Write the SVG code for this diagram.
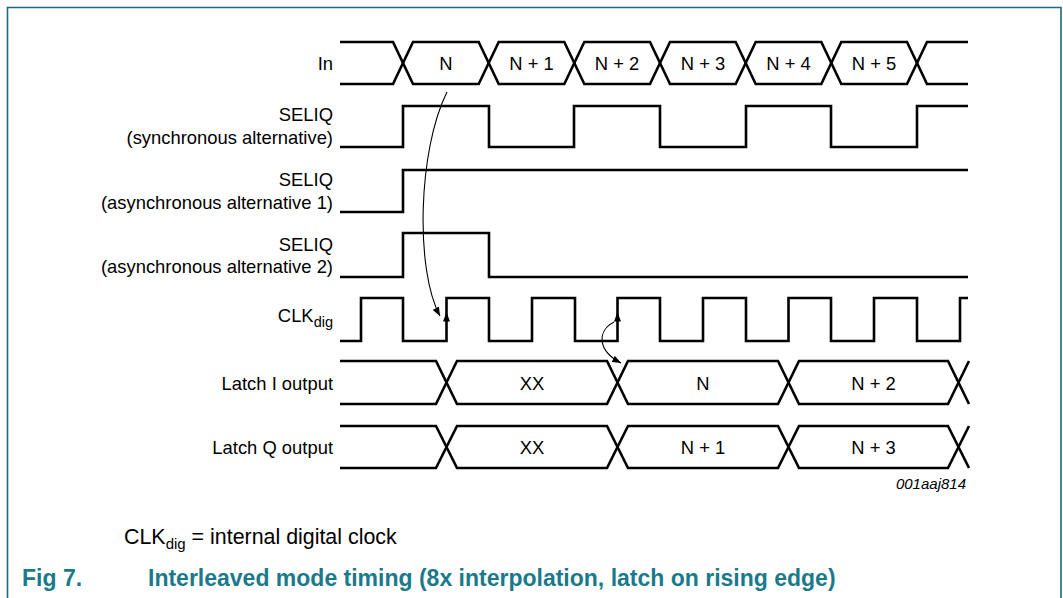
<svg xmlns="http://www.w3.org/2000/svg" width="1063" height="598" viewBox="0 0 1063 598">
<style>
.lbl{font-family:"Liberation Sans",Arial,sans-serif;font-size:18.4px;fill:#000;text-anchor:end}
.val{font-family:"Liberation Sans",Arial,sans-serif;font-size:18.4px;fill:#000;text-anchor:middle}
.wave{fill:none;stroke:#000;stroke-width:2.6;stroke-linejoin:miter;stroke-linecap:butt}
.conn{fill:none;stroke:#000;stroke-width:1.1}
.edge{fill:#000;stroke:none}
.frame{fill:none;stroke:#186d7e;stroke-width:1.6}
.cap{font-family:"Liberation Sans",Arial,sans-serif;font-size:23px;font-weight:bold;fill:#1a7a8c}
</style>
<defs>
<marker id="ah" viewBox="0 0 10 8" refX="10" refY="4" markerWidth="9" markerHeight="7" markerUnits="userSpaceOnUse" orient="auto">
<path d="M0,0 L10,4 L0,8 z" fill="#000"/>
</marker>
</defs>
<rect width="1063" height="598" fill="#fff"/>
<path class="frame" d="M7.5,598 V7.5 H1061 V598"/>

<g id="sig-in">
<text class="lbl" x="333" y="69.5">In</text>
<path class="wave" d="M340,42 H393 L413,84 H478.7 L498.7,42 H564.3 L584.3,84 H650 L670,42 H735.7 L755.7,84 H821.3 L841.3,42 H907 L927,84 H968"/>
<path class="wave" d="M340,84 H393 L413,42 H478.7 L498.7,84 H564.3 L584.3,42 H650 L670,84 H735.7 L755.7,42 H821.3 L841.3,84 H907 L927,42 H968"/>
<text class="val" x="446" y="69.5">N</text>
<text class="val" x="531.5" y="69.5">N + 1</text>
<text class="val" x="617" y="69.5">N + 2</text>
<text class="val" x="703" y="69.5">N + 3</text>
<text class="val" x="788.5" y="69.5">N + 4</text>
<text class="val" x="874" y="69.5">N + 5</text>
</g>

<g id="sig-seliq-sync">
<text class="lbl" x="333" y="121">SELIQ</text>
<text class="lbl" x="333" y="144">(synchronous alternative)</text>
<path class="wave" d="M340,147 H403 V106 H489 V147 H574 V106 H660 V147 H746 V106 H831 V147 H917 V106 H968"/>
</g>

<g id="sig-seliq-async1">
<text class="lbl" x="333" y="186">SELIQ</text>
<text class="lbl" x="333" y="208.5">(asynchronous alternative 1)</text>
<path class="wave" d="M340,212 H403 V170 H968"/>
</g>

<g id="sig-seliq-async2">
<text class="lbl" x="333" y="250.5">SELIQ</text>
<text class="lbl" x="333" y="273">(asynchronous alternative 2)</text>
<path class="wave" d="M340,277 H403 V233 H489 V277 H968"/>
</g>

<g id="sig-clk">
<text class="lbl" x="333" y="322">CLK<tspan dy="5" font-size="14.5">dig</tspan></text>
<path class="wave" d="M340,341 H361 V298 H403 V341 H446.5 V298 H489 V341 H532 V298 H575 V341 H617.5 V298 H660 V341 H703 V298 H746 V341 H788.5 V298 H831 V341 H874 V298 H917 V341 H960 V298 H968"/>
<polygon class="edge" points="446.5,312 443,321.5 450,321.5"/>
<polygon class="edge" points="617.5,312 614,321.5 621,321.5"/>
</g>

<g id="sig-latch-i">
<text class="lbl" x="333" y="389.5">Latch I output</text>
<path class="wave" d="M340,361 H436 L457,404 H607 L628,361 H778 L799,404 H948 L969,361"/>
<path class="wave" d="M340,404 H436 L457,361 H607 L628,404 H778 L799,361 H948 L969,404"/>
<text class="val" x="532" y="389.5">XX</text>
<text class="val" x="703" y="389.5">N</text>
<text class="val" x="873.5" y="389.5">N + 2</text>
</g>

<g id="sig-latch-q">
<text class="lbl" x="333" y="453.5">Latch Q output</text>
<path class="wave" d="M340,426 H436 L457,468 H607 L628,426 H778 L799,468 H948 L969,426"/>
<path class="wave" d="M340,468 H436 L457,426 H607 L628,468 H778 L799,426 H948 L969,468"/>
<text class="val" x="532" y="453.5">XX</text>
<text class="val" x="703" y="453.5">N + 1</text>
<text class="val" x="873.5" y="453.5">N + 3</text>
</g>

<g id="connectors">
<path class="conn" d="M447,92 C418,150 415,270 440,316" marker-end="url(#ah)"/>
<path class="conn" d="M614,322 C598,330 596,350 621,363" marker-end="url(#ah)"/>
</g>

<g id="notes">
<text x="966" y="489" style="font-family:'Liberation Sans',Arial,sans-serif;font-size:15px;font-style:italic;text-anchor:end">001aaj814</text>
<text x="124" y="544" style="font-family:'Liberation Sans',Arial,sans-serif;font-size:21.4px">CLK<tspan dy="5" font-size="15">dig</tspan><tspan dy="-5"> = internal digital clock</tspan></text>
<text class="cap" x="22" y="586">Fig 7.</text>
<text class="cap" x="148" y="586">Interleaved mode timing (8x interpolation, latch on rising edge)</text>
</g>
</svg>
